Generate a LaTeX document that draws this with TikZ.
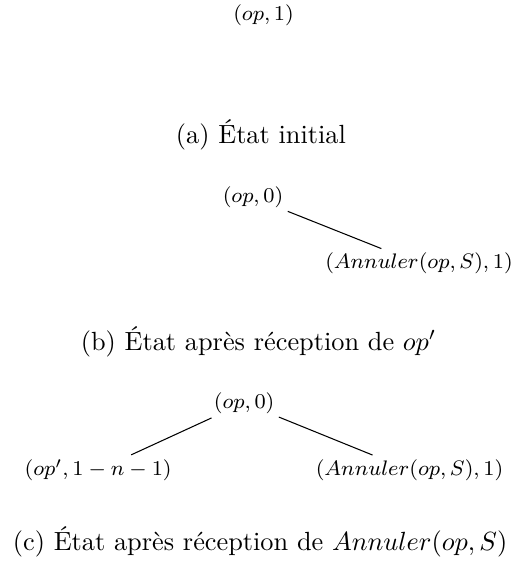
\documentclass[tikz,border=0pt]{standalone}
\usepackage{tikz}
\usepackage{mathtools}

\begin{document}
\begin{tikzpicture}[x=1pt,y=1pt,
          etat/.style={font=\footnotesize, inner sep=1.5pt},
          legende/.style={anchor=base, inner sep=0pt}]
          \useasboundingbox (0,0) rectangle (193.9,-216.7);

          % (a)
          \node[etat] (a0) at (100.2,-5.7) {$(op,1)$};
          \node[legende] (la) at (99.2,-54.5) {(a) État initial};

          % (b)
          \node[etat] (b0) at (96.2,-75.1) {$(op,0)$};
          \node[etat] (b1) at (159.3,-100.2) {$(Annuler(op,S),1)$};
          \draw (b0) -- (b1);
          \node[legende] (lb) at (98.3,-133.2) {(b) État après réception de $op'$};

          % (c)
          \node[etat] (c0) at (92.8,-153.2) {$(op,0)$};
          \node[etat] (c1) at (37.3,-178.7) {$(op',1-n-1)$};
          \node[etat] (c2) at (155.7,-178.7) {$(Annuler(op,S),1)$};
          \draw (c0) -- (c1);
          \draw (c0) -- (c2);
          \node[legende] (lc) at (98.9,-209.3) {(c) État après réception de $Annuler(op,S)$};
        \end{tikzpicture}
\end{document}
